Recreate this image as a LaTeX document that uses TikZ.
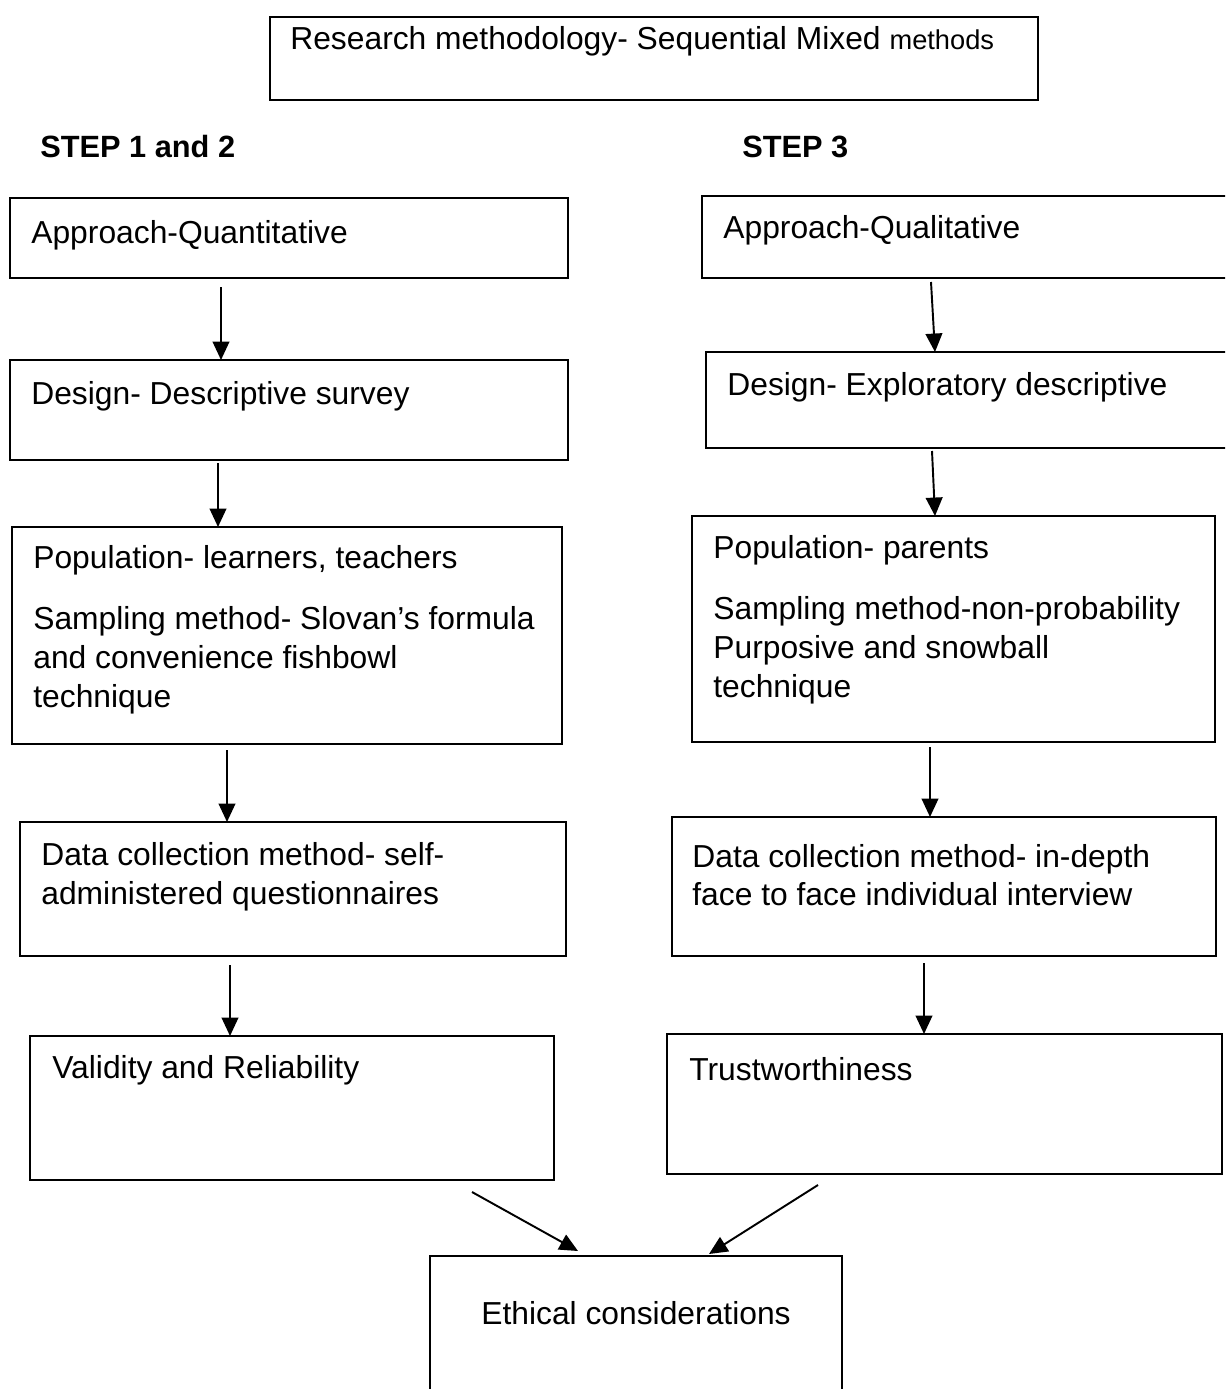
\documentclass[tikz,border=0pt]{standalone}
\usepackage{fontspec}
\setmainfont{Liberation Sans}
\usetikzlibrary{arrows.meta,calc}
% box from (x1,y1) to (x2,y2), in pixel units
\newcommand\flowbox[5]{%
  \node[box,minimum width={(#4-#2)*0.02cm},minimum height={(#5-#3)*0.02cm}] (#1) at (#2,#3) {};}
\begin{document}
\begin{tikzpicture}[x=0.02cm,y=-0.02cm,
  box/.style={draw,line width=1.1pt,inner sep=0pt,outer sep=0pt,anchor=north west},
  txt/.style={anchor=base west,inner sep=0pt,font=\fontsize{18.1}{22}\selectfont},
  head/.style={anchor=base west,inner sep=0pt,font=\fontsize{17.5}{21}\selectfont\bfseries},
  arr/.style={line width=1.1pt,-{Triangle[length=10.5pt,width=9.5pt]}}]
\useasboundingbox (0,0) rectangle (1225,1389);
\clip (0,0) rectangle (1225,1389);

% title
\flowbox{top}{270}{17}{1038}{100}
\node[txt] (toptxt) at (290,50) {Research methodology- Sequential Mixed {\fontsize{15.5}{19}\selectfont methods}};

% step headings
\node[head] (s12) at (40,157) {STEP 1 and 2};
\node[head] (s3) at (742,157) {STEP 3};

% quantitative column
\flowbox{b1}{10}{198}{568}{278}
\node[txt] (b1t) at (31,243) {Approach-Quantitative};
\flowbox{b2}{10}{360}{568}{460}
\node[txt] (b2t) at (31,404) {Design- Descriptive survey};
\flowbox{b3}{12}{527}{562}{744}
\node[txt] (b3a) at (33,568) {Population- learners, teachers};
\node[txt] (b3b) at (33,629) {Sampling method- Slovan’s formula};
\node[txt] (b3c) at (33,668) {and convenience fishbowl};
\node[txt] (b3d) at (33,707) {technique};
\flowbox{b4}{20}{822}{566}{956}
\node[txt] (b4a) at (41,865) {Data collection method- self-};
\node[txt] (b4b) at (41,904) {administered questionnaires};
\flowbox{b5}{30}{1036}{554}{1180}
\node[txt] (b5t) at (52,1078) {Validity and Reliability};

% qualitative column
\flowbox{r1}{702}{196}{1260}{278}
\node[txt] (r1t) at (723,238) {Approach-Qualitative};
\flowbox{r2}{706}{352}{1260}{448}
\node[txt] (r2t) at (727,395) {Design- Exploratory descriptive};
\flowbox{r3}{692}{516}{1215}{742}
\node[txt] (r3a) at (713,558) {Population- parents};
\node[txt] (r3b) at (713,619) {Sampling method-non-probability};
\node[txt] (r3c) at (713,658) {Purposive and snowball};
\node[txt] (r3d) at (713,697) {technique};
\flowbox{r4}{672}{817}{1216}{956}
\node[txt] (r4a) at (692,867) {Data collection method- in-depth};
\node[txt] (r4b) at (692,905) {face to face individual interview};
\flowbox{r5}{667}{1034}{1222}{1174}
\node[txt] (r5t) at (689,1080) {Trustworthiness};

% final box
\flowbox{eth}{430}{1256}{842}{1420}
\node[txt,anchor=base] (etht) at (636,1324) {Ethical considerations};

% arrow columns
\coordinate (xa1) at (221,0);
\coordinate (xa2) at (218,0);
\coordinate (xa3) at (227,0);
\coordinate (xa4) at (230,0);
\coordinate (xb1) at (931,0);
\coordinate (xb1e) at (935,0);
\coordinate (xb2) at (932,0);
\coordinate (xb2e) at (935,0);
\coordinate (xb3) at (930,0);
\coordinate (xb4) at (924,0);

\draw[arr] ($(b1.south -| xa1)+(0,9)$) -- (b2.north -| xa1);
\draw[arr] ($(b2.south -| xa2)+(0,3)$) -- (b3.north -| xa2);
\draw[arr] ($(b3.south -| xa3)+(0,6)$) -- (b4.north -| xa3);
\draw[arr] ($(b4.south -| xa4)+(0,9)$) -- (b5.north -| xa4);

\draw[arr] ($(r1.south -| xb1)+(0,4)$) -- (r2.north -| xb1e);
\draw[arr] ($(r2.south -| xb2)+(0,3)$) -- (r3.north -| xb2e);
\draw[arr] ($(r3.south -| xb3)+(0,5)$) -- (r4.north -| xb3);
\draw[arr] ($(r4.south -| xb4)+(0,7)$) -- (r5.north -| xb4);

% converging arrows
\coordinate (lfrom) at (472,1192);
\coordinate (lto) at (578,1251);
\coordinate (rfrom) at (818,1185);
\coordinate (rto) at (709,1254);
\draw[arr] (lfrom) -- (lto);
\draw[arr] (rfrom) -- (rto);
\end{tikzpicture}
\end{document}
